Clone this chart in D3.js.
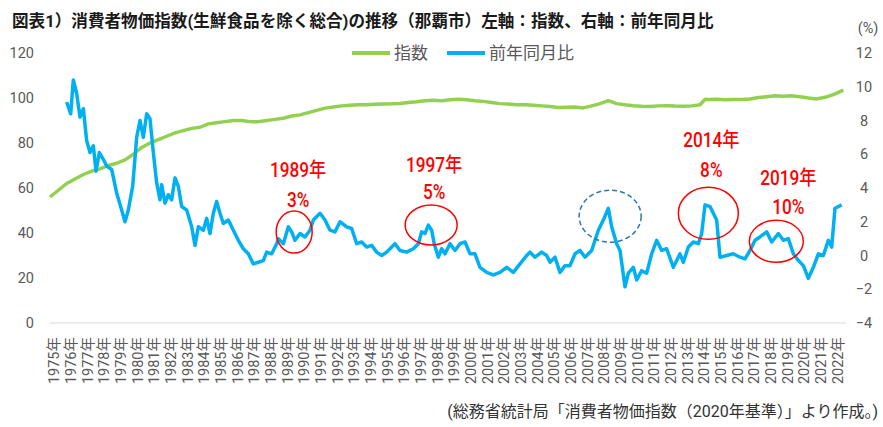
<!DOCTYPE html>
<html>
<head>
  <meta charset="UTF-8">
  <title>消費者物価指数の推移（那覇市）</title>
  <style>
    body { margin: 0; background: #ffffff; }
    svg { display: block; font-family: Roboto, "Noto Sans CJK JP", sans-serif; }
  </style>
</head>
<body>
<svg></svg>
<script src="https://d3js.org/d3.v7.min.js"></script>
<script>

// 指数 (left axis), decimal years
let idxYears = [1975.0, 1975.5, 1976.0, 1976.5, 1977.0, 1977.5, 1978.0, 1978.5, 1979.0, 1979.5,
  1980.0, 1980.5, 1981.0, 1981.5, 1982.0, 1982.5, 1983.0, 1983.5, 1984.0, 1984.5,
  1985.0, 1985.5, 1986.0, 1986.5, 1987.0, 1987.5, 1988.0, 1988.5, 1989.0, 1989.5,
  1990.0, 1990.5, 1991.0, 1991.5, 1992.0, 1992.5, 1993.0, 1993.5, 1994.0, 1994.5,
  1995.0, 1995.5, 1996.0, 1996.5, 1997.0, 1997.5, 1998.0, 1998.5, 1999.0, 1999.5,
  2000.0, 2000.5, 2001.0, 2001.5, 2002.0, 2002.5, 2003.0, 2003.5, 2004.0, 2004.5,
  2005.0, 2005.5, 2006.0, 2006.5, 2007.0, 2007.5, 2008.0, 2008.5, 2009.0, 2009.5,
  2010.0, 2010.5, 2011.0, 2011.5, 2012.0, 2012.5, 2013.0, 2013.5, 2014.0, 2014.3,
  2014.5, 2015.0, 2015.5, 2016.0, 2016.5, 2017.0, 2017.5, 2018.0, 2018.5, 2019.0,
  2019.5, 2020.0, 2020.5, 2021.0, 2021.5, 2022.0, 2022.6];
let idxValues = [56, 59, 62, 64, 66, 67.5, 68.5, 70, 71, 72.5,
  75, 78, 80, 81.5, 83, 84.5, 85.5, 86.5, 87, 88.5,
  89, 89.5, 90, 90, 89.5, 89.5, 90, 90.5, 91, 92,
  92.5, 93.5, 94.5, 95.5, 96, 96.5, 96.8, 97, 97, 97.2,
  97.3, 97.4, 97.6, 98, 98.3, 98.8, 99, 98.8, 99.2, 99.4,
  99.2, 98.8, 98.5, 98, 97.5, 97.3, 97, 97, 96.8, 96.5,
  96.2, 95.8, 95.9, 96, 95.6, 96.5, 97.5, 98.8, 97.5, 97,
  96.6, 96.3, 96.2, 96.5, 96.6, 96.4, 96.3, 96.5, 97, 99.4,
  99.3, 99.4, 99.2, 99.3, 99.3, 99.6, 100.2, 100.6, 101, 100.8,
  101, 100.6, 100, 99.6, 100.3, 101.5, 103.5];

// 前年同月比 (right axis, %)
let yoyYears = [1976.0, 1976.24, 1976.4, 1976.6, 1976.8, 1977.0, 1977.2, 1977.4, 1977.6, 1977.76,
  1977.96, 1978.2, 1978.4, 1978.7, 1979.0, 1979.3, 1979.5, 1979.7, 1979.96, 1980.2,
  1980.4, 1980.6, 1980.8, 1981.0, 1981.2, 1981.4, 1981.6, 1981.7, 1981.9, 1982.1,
  1982.3, 1982.5, 1982.7, 1982.9, 1983.2, 1983.5, 1983.7, 1983.9, 1984.2, 1984.4,
  1984.6, 1984.8, 1985.0, 1985.2, 1985.4, 1985.7, 1986.0, 1986.3, 1986.6, 1986.9,
  1987.2, 1987.5, 1987.8, 1988.0, 1988.3, 1988.6, 1988.7, 1989.0, 1989.3, 1989.5,
  1989.7, 1990.0, 1990.3, 1990.6, 1990.8, 1991.2, 1991.5, 1991.8, 1992.1, 1992.4,
  1992.8, 1993.1, 1993.4, 1993.7, 1994.0, 1994.3, 1994.6, 1994.9, 1995.2, 1995.5,
  1995.7, 1996.0, 1996.4, 1996.8, 1997.1, 1997.3, 1997.5, 1997.7, 1997.9, 1998.05,
  1998.3, 1998.5, 1998.7, 1999.0, 1999.3, 1999.6, 1999.9, 2000.2, 2000.5, 2000.8,
  2001.2, 2001.6, 2002.0, 2002.4, 2002.8, 2003.2, 2003.6, 2003.8, 2004.1, 2004.5,
  2004.8, 2005.0, 2005.3, 2005.6, 2005.9, 2006.2, 2006.5, 2006.8, 2007.1, 2007.5,
  2007.9, 2008.2, 2008.5, 2008.7, 2009.0, 2009.2, 2009.5, 2009.7, 2010.0, 2010.2,
  2010.5, 2010.8, 2011.1, 2011.4, 2011.7, 2012.0, 2012.4, 2012.8, 2013.0, 2013.3,
  2013.6, 2013.9, 2014.1, 2014.3, 2014.6, 2014.8, 2015.0, 2015.2, 2015.6, 2016.0,
  2016.4, 2016.7, 2017.0, 2017.3, 2017.6, 2018.0, 2018.3, 2018.7, 2019.0, 2019.3,
  2019.6, 2019.9, 2020.2, 2020.5, 2020.8, 2021.1, 2021.4, 2021.7, 2021.9, 2022.1,
  2022.5];
let yoyValues = [9.1, 8.4, 10.4, 9.6, 8.2, 8.7, 6.8, 6.1, 6.5, 5.0,
  6.1, 5.7, 5.3, 5.1, 3.7, 2.7, 2.0, 2.7, 4.1, 7.0,
  8.0, 7.0, 8.4, 8.1, 6.1, 4.3, 3.3, 4.2, 3.1, 3.6,
  3.3, 4.6, 4.1, 2.9, 2.7, 1.7, 0.6, 1.7, 1.5, 2.2,
  1.3, 2.5, 3.2, 2.5, 1.9, 2.1, 1.5, 0.9, 0.4, 0.1,
  -0.5, -0.4, -0.3, 0.2, 0.1, 0.7, 1.0, 0.7, 1.7, 1.4,
  0.9, 1.3, 1.1, 1.5, 2.1, 2.5, 2.1, 1.5, 1.4, 2.0,
  1.7, 1.6, 0.7, 0.8, 0.5, 0.6, 0.2, 0.0, 0.2, 0.5,
  0.7, 0.3, 0.2, 0.4, 0.7, 1.4, 1.3, 1.8, 1.5, 0.7,
  -0.1, 0.4, 0.1, 0.7, 0.3, 0.7, 0.8, 0.1, 0.1, -0.7,
  -1.0, -1.15, -1.0, -0.7, -1.0, -0.5, 0.0, 0.2, -0.1, 0.2,
  0.0, -0.4, -0.1, -1.0, -0.6, -0.6, 0.1, 0.3, -0.1, 0.3,
  1.5, 2.1, 2.8, 1.7, 0.7, 0.3, -1.85, -1.05, -0.7, -1.45,
  -0.9, -1.05, 0.1, 0.9, 0.3, 0.4, -0.7, 0.1, -0.4, 0.5,
  0.8, 0.7, 1.3, 3.0, 2.9, 2.5, 2.1, -0.1, 0.0, 0.1,
  -0.1, -0.2, 0.3, 0.9, 1.1, 1.4, 0.8, 1.3, 0.9, 1.0,
  0.1, -0.3, -0.6, -1.35, -0.7, 0.1, 0.0, 0.9, 0.5, 2.8,
  3.0];

let yearLabels = d3.range(1975, 2023);
let leftTicks = [0, 20, 40, 60, 80, 100, 120];
let rightTicks = [-4, -2, 0, 2, 4, 6, 8, 10, 12];

// red callouts: label, rate, ellipse centre (year, %)
let calloutYears = ["1989年", "1997年", "2014年", "2019年"];
let calloutRates = ["3%", "5%", "8%", "10%"];
let calloutCx = [1989.65, 1997.87, 2014.5, 2018.58];
let calloutCy = [1.39, 1.81, 2.5, 0.84];

let width = 883, height = 427;
let svg = d3.select("svg").attr("width", width).attr("height", height);

let x = d3.scaleLinear().domain([1975, 2023]).range([50, 850]);
let yL = d3.scaleLinear().domain([0, 120]).range([323, 53]);
let yR = d3.scaleLinear().domain([-4, 12]).range([323, 53]);

let axisColor = "#595959";

// title
svg.append("text")
    .attr("x", 12).attr("y", 27)
    .attr("font-size", 16.6).attr("font-weight", "bold").attr("fill", "#1a1a1a")
    .text("図表1）消費者物価指数(生鮮食品を除く総合)の推移（那覇市）左軸：指数、右軸：前年同月比");

// baseline
svg.append("line")
    .attr("x1", 50).attr("x2", 846)
    .attr("y1", yL(0)).attr("y2", yL(0))
    .attr("stroke", "#d9d9d9").attr("stroke-width", 1);

// left axis
let gl = svg.append("g").attr("transform", "translate(34,0)")
    .call(d3.axisLeft(yL).tickValues(leftTicks).tickSize(0).tickPadding(0));
gl.select(".domain").remove();
gl.selectAll("text").attr("font-size", 14.5).attr("fill", axisColor)
    .style("font-family", "Roboto, sans-serif");

// right axis
let gr = svg.append("g").attr("transform", "translate(864,0)")
    .call(d3.axisRight(yR).tickValues(rightTicks).tickSize(0).tickPadding(0));
gr.select(".domain").remove();
gr.selectAll("text").attr("font-size", 14.5).attr("fill", axisColor)
    .attr("text-anchor", "middle")
    .style("font-family", "Roboto, sans-serif");

svg.append("text")
    .attr("x", 868).attr("y", 33).attr("text-anchor", "middle")
    .attr("font-size", 14.5).attr("fill", axisColor)
    .text("(%)");

// x labels, rotated
svg.append("g").selectAll("text")
    .data(yearLabels)
    .enter()
    .append("text")
        .attr("transform", d => "translate(" + x(d + 0.25) + ",337) rotate(-90)")
        .attr("text-anchor", "end")
        .attr("dy", "0.35em")
        .attr("font-size", 14.5)
        .attr("fill", axisColor)
        .text(d => d + "年");

// lines
let idxLine = d3.line().x((d, i) => x(idxYears[i])).y(d => yL(d));
svg.append("path")
    .attr("d", idxLine(idxValues))
    .attr("fill", "none").attr("stroke", "#92d050")
    .attr("stroke-width", 3.5).attr("stroke-linejoin", "round");

let yoyLine = d3.line().x((d, i) => x(yoyYears[i])).y(d => yR(d));
svg.append("path")
    .attr("d", yoyLine(yoyValues))
    .attr("fill", "none").attr("stroke", "#00b0f0")
    .attr("stroke-width", 3.5).attr("stroke-linejoin", "round");

// legend
let legend = [["指数", "#92d050", 352], ["前年同月比", "#00b0f0", 447]];
legend.forEach(l => {
  svg.append("line")
      .attr("x1", l[2]).attr("x2", l[2] + 38)
      .attr("y1", 53).attr("y2", 53)
      .attr("stroke", l[1]).attr("stroke-width", 4);
  svg.append("text")
      .attr("x", l[2] + 42).attr("y", 53).attr("dy", "0.35em")
      .attr("font-size", 17).attr("fill", axisColor)
      .text(l[0]);
});

// callouts
let ellR = [[18, 21], [26, 20], [30, 26], [27, 21]];
let textDx = [4, 3, 3, 12];
let yearGap = [41, 40, 47, 42];
let rateGap = [11, 13, 17, 13];
function redText(tx, ty, s) {
  svg.append("text")
      .attr("transform", "translate(" + tx + "," + ty + ") scale(0.86,1)")
      .attr("dy", "0.35em")
      .attr("text-anchor", "middle").attr("font-size", 20)
      .attr("font-weight", 500).attr("fill", "#ff0000")
      .text(s);
}
calloutYears.forEach((t, i) => {
  let cx = x(calloutCx[i]), cy = yR(calloutCy[i]);
  svg.append("ellipse")
      .attr("cx", cx).attr("cy", cy)
      .attr("rx", ellR[i][0]).attr("ry", ellR[i][1])
      .attr("fill", "none").attr("stroke", "#ff0000").attr("stroke-width", 1.5);
  let tx = cx + textDx[i];
  let top = cy - ellR[i][1];
  redText(tx, top - yearGap[i], t);
  redText(tx, top - rateGap[i], calloutRates[i]);
});

// dashed ring around 2008
svg.append("ellipse")
    .attr("cx", x(2008.61)).attr("cy", yR(2.33))
    .attr("rx", 31).attr("ry", 26)
    .attr("fill", "none").attr("stroke", "#2e75b6")
    .attr("stroke-width", 1.5).attr("stroke-dasharray", "5,3");

// source
svg.append("text")
    .attr("x", 878).attr("y", 411).attr("dy", "0.35em")
    .attr("text-anchor", "end").attr("font-size", 16).attr("fill", "#333")
    .text("(総務省統計局「消費者物価指数（2020年基準）」より作成。)");

</script>
</body>
</html>
